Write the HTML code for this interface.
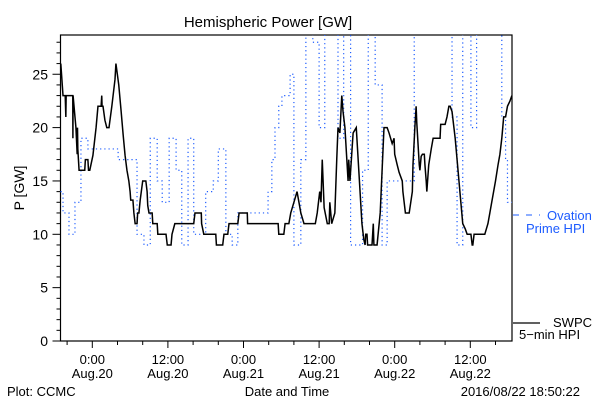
<!DOCTYPE html>
<html><head><meta charset="utf-8"><style>
html,body{margin:0;padding:0;background:#fff;}
svg{display:block;font-family:"Liberation Sans",sans-serif;}
</style></head><body>
<svg id="chart" width="600" height="400" xmlns="http://www.w3.org/2000/svg">
<rect width="600" height="400" fill="#fff"/>
<text x="268" y="27" font-size="15" text-anchor="middle">Hemispheric Power [GW]</text>
<text x="0" y="0" font-size="14" text-anchor="middle" transform="translate(24,188) rotate(-90)">P [GW]</text>
<g id="axes"></g>
<g id="series"></g>
<line x1="513" y1="215" x2="540" y2="215" stroke="#1d5cff" stroke-width="1" stroke-dasharray="6,7"/>
<text x="547" y="220" font-size="13" fill="#1d5cff">Ovation</text>
<text x="526" y="233" font-size="13" fill="#1d5cff">Prime HPI</text>
<line x1="513" y1="323" x2="540" y2="323" stroke="#000" stroke-width="1.2"/>
<text x="553" y="327" font-size="13">SWPC</text>
<text x="519" y="339" font-size="13">5−min HPI</text>
<text x="287" y="396" font-size="13" text-anchor="middle">Date and Time</text>
<text x="7" y="396" font-size="13">Plot: CCMC</text>
<text x="580" y="396" font-size="13" text-anchor="end">2016/08/22 18:50:22</text>
</svg>
<script>
const yTicks=[0,5,10,15,20,25];
const xTickHours=[0,12,24,36,48,60];
const xTickTimes=["0:00","12:00","0:00","12:00","0:00","12:00"];
const xTickDates=["Aug.20","Aug.20","Aug.21","Aug.21","Aug.22","Aug.22"];
const ovHours=[-5.05,-4.65,-3.7,-2.75,-1.8,-0.7,4.1,7.1,8.2,9.2,10.3,11.1,12.2,13.3,14.2,15.2,16.1,18.0,19.2,20.0,21.2,22.2,23.1,27.9,28.5,29.0,29.6,30.1,31.4,32.0,33.1,33.9,35.0,36.0,36.9,39.0,39.9,41.0,42.9,43.8,44.9,46.0,46.8,51.1,57.1,57.9,58.8,60.1,61.0,65.0,65.6,65.9];
const ovValues=[14,12,10,13,19,18,17,10,9,19,15,13,19,16,9,19,10,14,15,18,10,9,12,14,17,20,22,23,25,9,17,30,28,20,30,19,30,9,16,30,24,9,15,30,21,9,30,20,30,21,17,13];
const hpHours=[-5.0,-4.65,-4.3,-4.2,-4.15,-3.1,-3.08,-3.05,-2.75,-2.6,-2.4,-2.35,-2.3,-2.1,-1.2,-1.1,-0.7,-0.6,-0.4,0.1,0.6,0.9,1.4,1.5,1.55,1.7,2.0,2.3,2.65,3.1,3.3,3.6,3.75,4.2,4.55,4.9,5.2,5.5,5.8,6.0,6.1,6.45,6.6,6.8,7.1,7.2,7.4,7.6,8.0,8.5,8.7,8.8,9.0,9.5,9.6,10.3,10.4,11.7,11.9,12.5,12.65,13.1,16.1,16.3,17.3,17.35,17.7,19.6,19.7,20.7,20.9,21.5,21.7,23.1,23.3,24.6,24.65,29.5,29.6,30.4,30.6,31.2,31.5,32.0,32.5,32.8,33.1,33.6,35.4,35.7,36.1,36.3,36.5,36.8,37.3,37.6,37.7,38.0,38.5,38.8,39.0,39.3,39.6,39.8,40.1,40.4,40.6,40.7,40.9,41.4,41.9,42.0,42.3,42.8,43.0,43.1,43.3,43.4,43.6,43.7,44.4,44.6,44.7,45.2,45.7,46.0,46.3,46.8,47.1,47.6,47.9,48.0,48.4,48.7,49.2,49.3,49.7,50.3,50.8,50.9,51.2,51.4,51.5,51.9,52.0,52.2,52.4,52.7,52.8,53.0,53.1,53.4,53.8,54.1,55.2,55.3,56.0,56.3,56.6,56.8,57.1,57.6,57.9,58.2,58.5,58.8,59.2,59.5,60.1,60.3,60.4,60.6,62.3,62.8,63.1,63.4,63.7,64.0,64.4,64.7,65.0,65.3,65.6,65.9,66.3,66.6];
const hpValues=[26,23,23,21,23,23,19,23,21,20,17.5,20,18,16,16,17,17,16,16,17.4,20,22,22,23,22,22,20.7,20,20,22,23,24.5,26,24,21.7,19.3,17.4,16,15,14,13.2,13.2,12,11,11,12,12,13.2,15,15,14,12.7,12,12,11,11,10,10,9,9,10,11,11,12,12,11,10,10,9,9,10,10,11,11,12,12,11,11,10,10,11,11,12,13,14,13,12,11,11,12,14,13,17,12.5,11,11,13,11,12,17,20,19.5,23,21.5,20,17,15,17,15,19.5,20,19,16,11,10,9.5,9,10,10,9,9,11,9,9,12,16,20,20,19.5,18.5,19,17.5,16.5,15.8,15,14,12,12,14,16.5,20,22,20.5,16.5,16,17.3,17.5,17.5,16.5,15,14,16.5,18,19,19,20.3,20.3,21,22,22,21.5,19,17,15,13,11,10.5,10,10,9,9,10,10,11,12,13,14,15,16.5,17.5,19,21,21,22,22.5,23];

const L=60.5,R=512,T=35,B=341;
const H0=92.3,PXH=6.3,PXV=10.67;
function xs(h){return H0+h*PXH;}
function ys(v){return B-v*PXV;}
const NS="http://www.w3.org/2000/svg";
function mk(tag,attrs,parent){const e=document.createElementNS(NS,tag);for(const k in attrs)e.setAttribute(k,attrs[k]);parent.appendChild(e);return e;}
const axes=document.getElementById('axes');
const frame=mk('rect',{x:L,y:T,width:R-L,height:B-T,fill:'none',stroke:'#000','stroke-width':1.2},axes);


for(let v=0;v<=28;v++){
  const major=v%5===0;
  const t=mk('line',{x1:L-(major?8:4),x2:L,y1:ys(v),y2:ys(v),stroke:'#000'},axes);
  
  
}
yTicks.forEach(v=>{
  const t=mk('text',{x:48,y:ys(v)+5,'font-size':14,'text-anchor':'end'},axes);
  t.textContent=v;
  
  
});
for(let h=-4;h<=66;h+=4){
  const major=h%12===0;
  const t=mk('line',{x1:xs(h),x2:xs(h),y1:B,y2:B+(major?7:4),stroke:'#000'},axes);
  
  
}
xTickHours.forEach((h,i)=>{
  const t1=mk('text',{x:xs(h),y:364,'font-size':13,'text-anchor':'middle'},axes);
  t1.textContent=xTickTimes[i];
  
  
  const t2=mk('text',{x:xs(h),y:378,'font-size':13,'text-anchor':'middle'},axes);
  t2.textContent=xTickDates[i];
  
  
});
const series=document.getElementById('series');
const clip=mk('clipPath',{id:'pc'},series);
mk('rect',{x:L,y:T,width:R-L,height:B-T},clip);
let d='';
ovHours.forEach((h,i)=>{
  const x=xs(h),y=ys(ovValues[i]);
  if(i===0)d+='M'+x+','+y;else d+='V'+y;
  const nx=i<ovHours.length-1?xs(ovHours[i+1]):R;
  d+='H'+nx;
});
const ov=mk('path',{d:d,fill:'none',stroke:'#1d5cff','stroke-width':1.2,'stroke-dasharray':'1.2,3','clip-path':'url(#pc)'},series);


const pts=hpHours.map((h,i)=>xs(h)+','+ys(hpValues[i])).join(' ');
const hp=mk('polyline',{points:pts,fill:'none',stroke:'#000','stroke-width':1.5,'clip-path':'url(#pc)'},series);


</script>
</body></html>
